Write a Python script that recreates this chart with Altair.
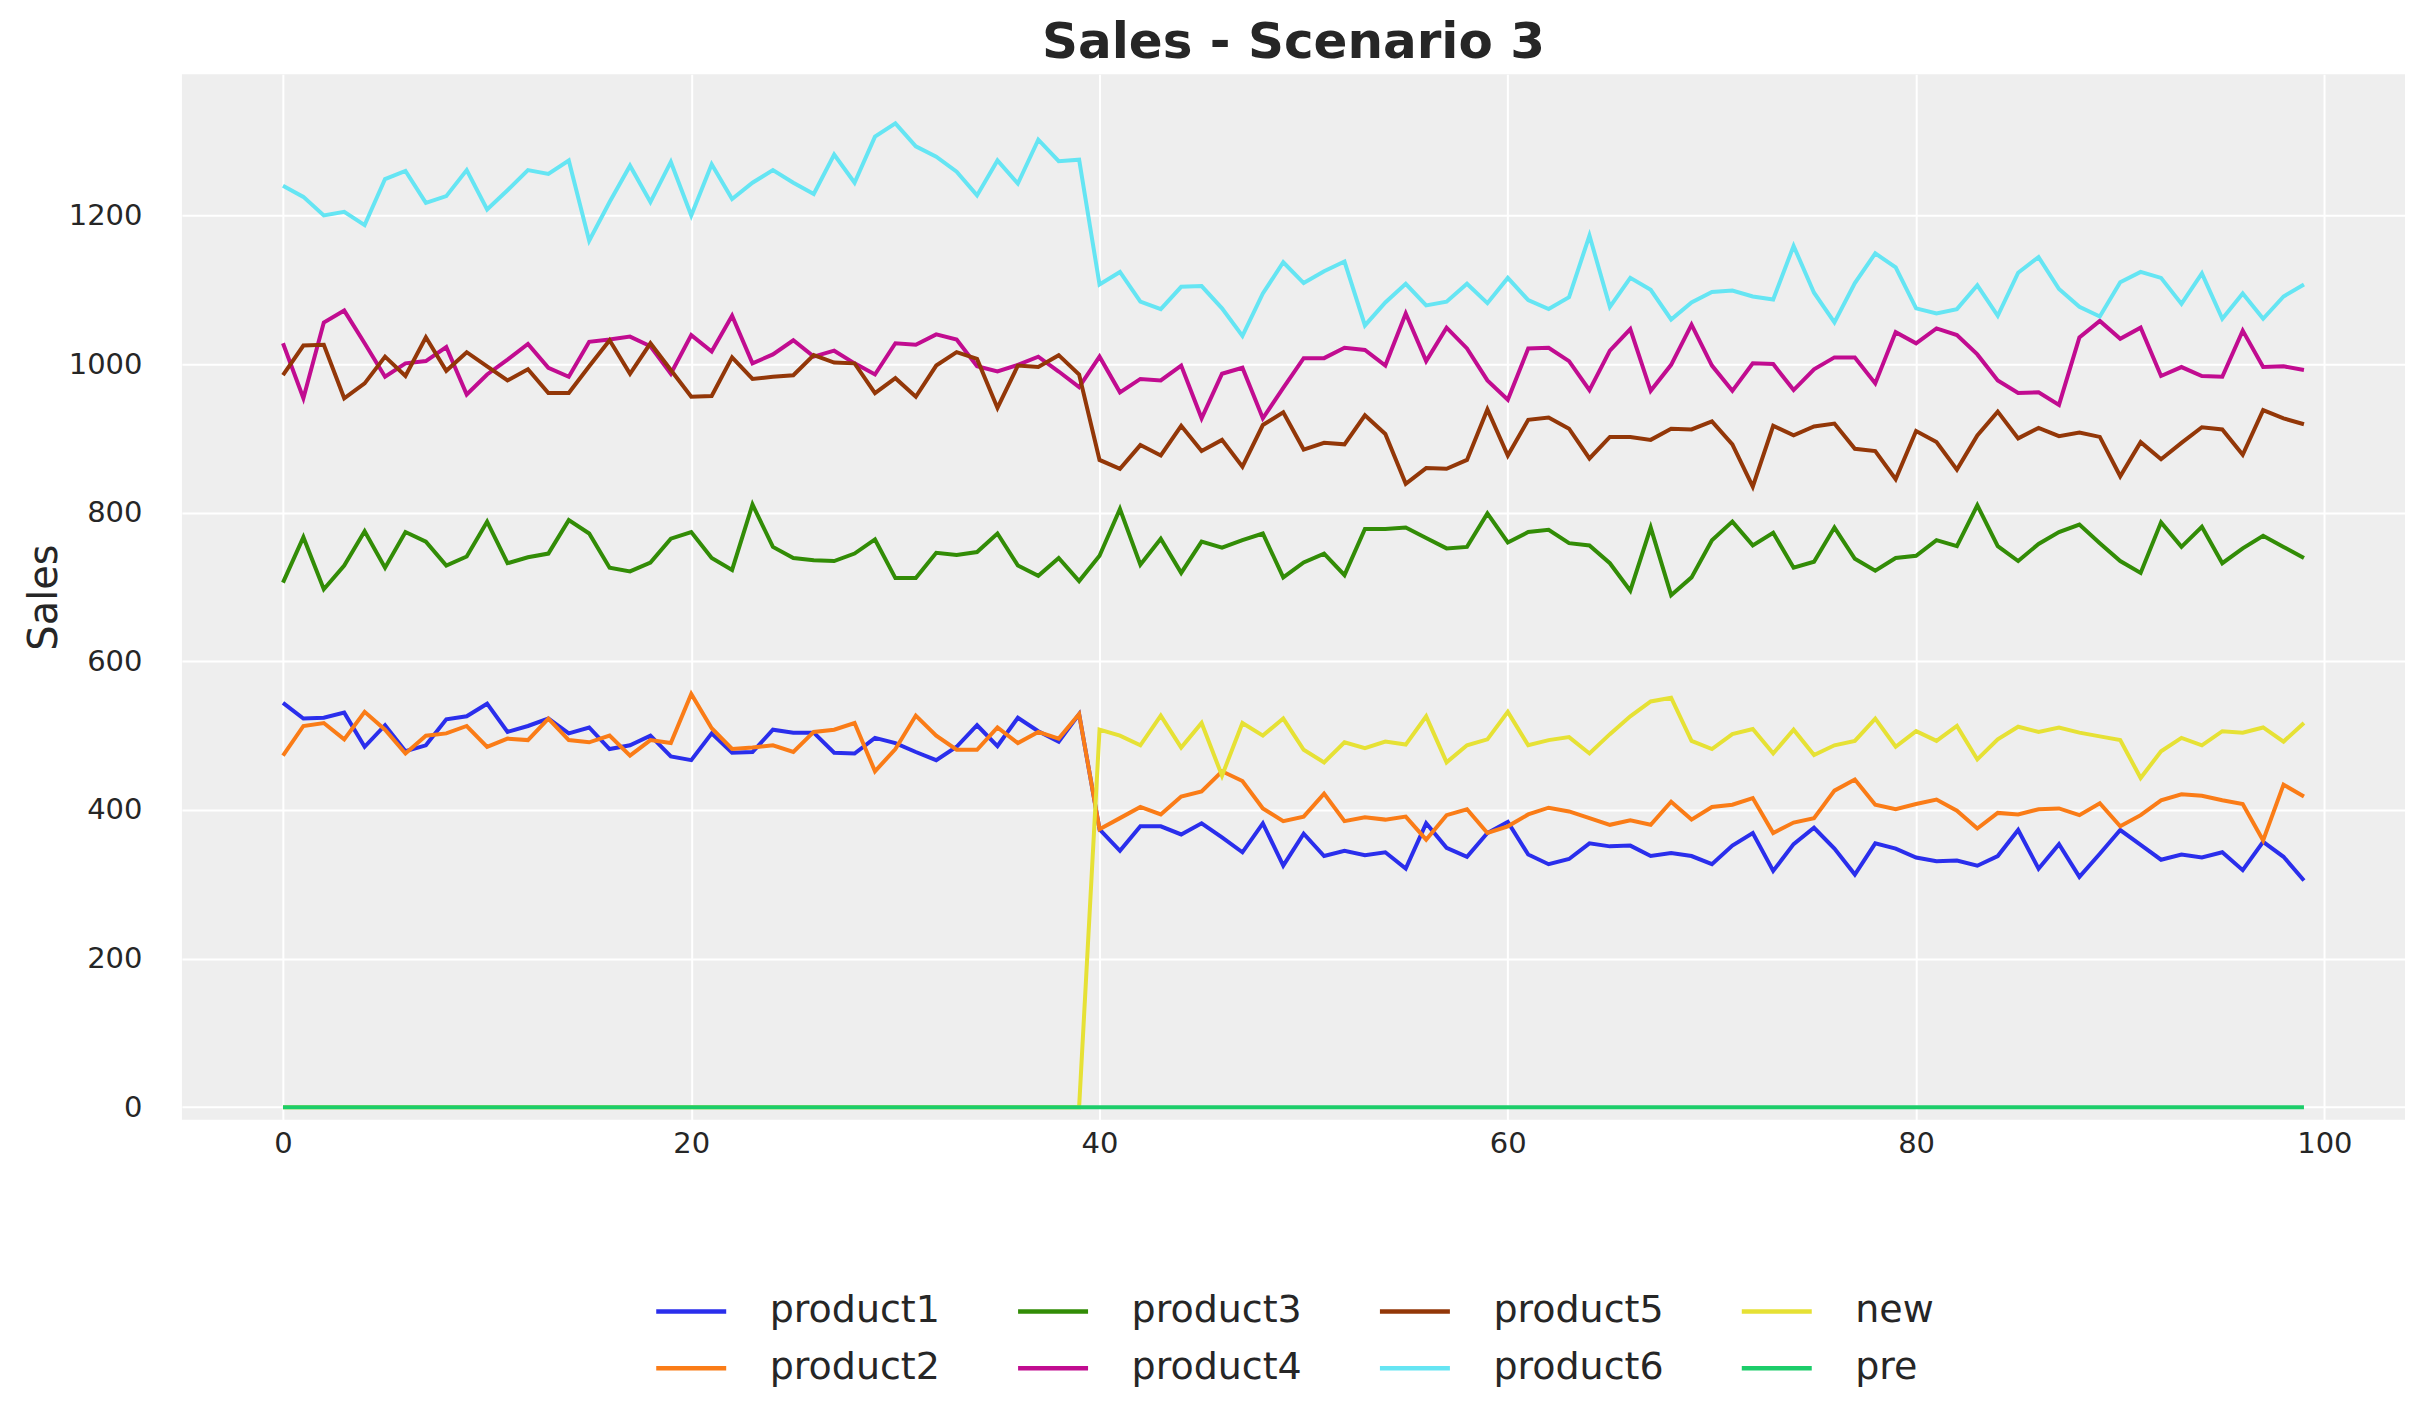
import altair as alt
import pandas as pd

x_vals = list(range(100))

product1 = [544,523,524,531,485,514,479,487,522,526,543,505,513,523,503,511,482,487,500,472,467,
            503,477,478,508,504,504,477,476,497,490,478,467,485,514,486,524,506,492,529,374,345,
            378,378,367,382,363,343,382,325,368,338,345,339,343,321,382,349,337,369,384,340,
            327,334,355,351,352,338,342,338,327,352,369,318,354,376,348,313,355,348,336,331,
            332,325,338,373,321,354,310,341,373,353,333,340,336,343,319,357,337,305]
product2 = [473,513,517,495,532,508,476,500,503,513,485,496,494,523,494,491,500,473,494,490,556,
            510,482,484,487,478,505,508,517,452,482,527,500,481,481,511,490,505,496,529,374,389,
            404,394,418,425,452,439,402,385,391,422,385,390,387,391,360,393,401,369,378,394,
            403,398,389,380,386,380,411,387,404,407,416,369,383,389,426,441,407,401,408,414,
            399,375,396,394,401,402,393,409,378,393,413,421,419,413,408,359,434,418]
product3 = [706,767,697,729,775,726,774,761,729,741,788,732,740,745,790,772,726,721,733,765,774,
            739,723,811,754,739,736,735,745,764,712,712,746,743,747,772,729,715,739,708,742,805,
            730,765,719,761,753,763,772,713,733,745,716,778,778,780,766,752,754,799,760,774,
            777,759,756,732,695,780,689,713,763,788,756,773,726,734,780,738,722,739,742,763,
            755,810,755,735,758,774,784,759,735,719,787,754,781,732,752,769,754,739]
product4 = [1028,954,1056,1072,1028,983,1001,1004,1023,959,986,1006,1027,995,983,1030,1033,1037,1024,987,1039,
            1017,1065,1001,1013,1032,1010,1018,1001,986,1028,1026,1040,1033,997,990,999,1010,990,969,1010,962,
            980,978,998,927,987,995,927,968,1008,1008,1022,1019,998,1068,1004,1049,1021,978,952,1021,
            1022,1004,965,1018,1047,964,999,1053,998,964,1001,1000,965,993,1009,1009,974,1043,1028,1048,
            1039,1013,978,961,962,945,1036,1058,1034,1049,984,996,984,983,1045,996,997,992]
product5 = [985,1025,1026,954,974,1010,984,1036,991,1016,997,978,993,961,961,997,1032,987,1028,992,956,
            957,1009,980,983,985,1012,1002,1001,961,981,956,998,1016,1007,941,998,996,1012,986,871,859,
            891,877,917,883,898,862,918,935,885,894,892,931,906,839,860,859,871,939,877,925,
            928,913,873,902,902,898,913,912,923,892,835,917,904,916,920,886,883,845,910,895,
            858,904,936,900,914,903,908,902,849,895,872,894,915,912,878,938,927,919]
product6 = [1240,1225,1200,1205,1187,1249,1260,1217,1226,1261,1208,1234,1261,1256,1274,1166,1218,1267,1218,1272,1200,
            1269,1222,1244,1261,1244,1229,1282,1244,1306,1324,1293,1279,1259,1227,1274,1243,1302,1273,1275,1107,1124,
            1084,1074,1104,1105,1075,1038,1095,1137,1109,1125,1138,1052,1083,1108,1079,1084,1108,1082,1116,1086,
            1074,1090,1173,1077,1116,1100,1060,1083,1097,1099,1091,1087,1159,1096,1056,1109,1149,1130,1075,1068,
            1074,1106,1065,1123,1144,1101,1077,1064,1110,1124,1116,1081,1122,1061,1095,1061,1091,1107]
new = [0]*40 + [508,500,487,527,484,517,446,517,500,523,481,464,491,483,492,488,526,464,487,495,532,487,
                494,498,476,502,526,546,551,493,482,502,509,476,508,474,487,493,523,485,506,493,
                513,468,495,512,505,511,504,499,494,443,479,497,487,506,504,511,492,517]
pre = [0]*100

series_names = ["product1", "product2", "product3", "product4", "product5", "product6", "new", "pre"]
series_values = [product1, product2, product3, product4, product5, product6, new, pre]
series_colors = ["#2a2eec", "#fa7c17", "#328c06", "#c10c90", "#933708", "#65e5f3", "#e6e135", "#1ccd6a"]

rows = []
for name, vals in zip(series_names, series_values):
    for xi, v in zip(x_vals, vals):
        rows.append({"t": xi, "Sales": v, "series": name})
df = pd.DataFrame(rows)

FONT = "DejaVu Sans"
TXT = "#262626"

color = alt.Color(
    "series:N",
    scale=alt.Scale(domain=series_names, range=series_colors),
    legend=alt.Legend(
        title=None, orient="none", legendX=472, legendY=1200, columns=4,
        symbolType="stroke", symbolSize=4900, symbolStrokeWidth=4.5,
        labelFontSize=38, labelFont=FONT, labelColor=TXT, labelOffset=41, labelLimit=500,
        columnPadding=68, rowPadding=-10, gridAlign="all", padding=0,
    ),
)

x = alt.X("t:Q", scale=alt.Scale(domain=[-4.95, 103.95], nice=False, zero=False),
          axis=alt.Axis(title=None, values=[0, 20, 40, 60, 80, 100], format="d",
                        labelFontSize=29, labelFont=FONT, labelColor=TXT, labelPadding=10,
                        ticks=False, domain=False, grid=True, gridColor="white", gridWidth=2))
y = alt.Y("Sales:Q", scale=alt.Scale(domain=[-17, 1390], nice=False, zero=False),
          axis=alt.Axis(title="Sales", values=[0, 200, 400, 600, 800, 1000, 1200], format="d",
                        labelFontSize=29, labelFont=FONT, labelColor=TXT, labelPadding=40,
                        titleFontSize=40, titleFont=FONT, titleColor=TXT, titleFontWeight="normal",
                        titlePadding=4,
                        ticks=False, domain=False, grid=True, gridColor="white", gridWidth=2))

base = alt.Chart(df)
main = base.transform_filter(alt.datum.series != "pre").mark_line(strokeWidth=4).encode(
    x=x, y=y, color=color, detail="series:N")
pre_layer = base.transform_filter(alt.datum.series == "pre").mark_line(strokeWidth=4).encode(
    x=x, y=y, color=color)

chart = alt.layer(main, pre_layer).properties(
    width=2224, height=1046,
    title=alt.TitleParams("Sales - Scenario 3", fontSize=50, font=FONT, fontWeight="bold",
                          color=TXT, anchor="middle", offset=6),
    autosize=alt.AutoSizeParams(type="none"),
    padding={"left": 174, "top": 66, "right": 10, "bottom": 295},
).configure(background="white").configure_view(fill="#eeeeee", strokeWidth=0)

chart.save("out.html", embed_options={"renderer": "svg", "actions": False})
